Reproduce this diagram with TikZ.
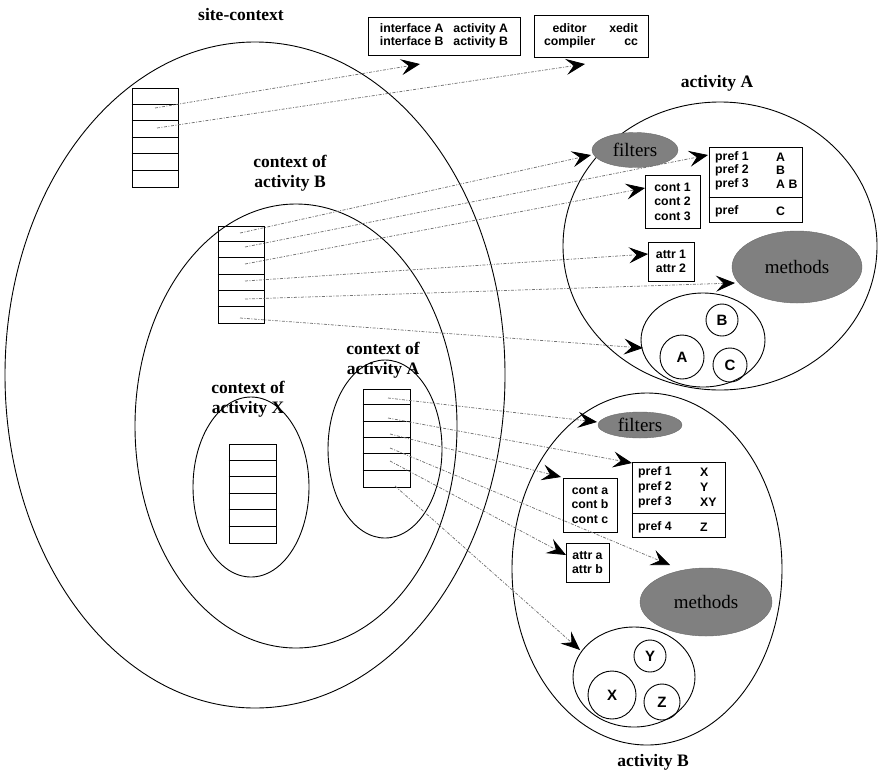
\documentclass[tikz,border=0pt]{standalone}
\usepackage{fontspec}
\setmainfont{Liberation Serif}
\newfontfamily\sansf{Liberation Sans}
\usetikzlibrary{shapes.geometric,arrows.meta}
\tikzset{
  lbl/.style={font=\bfseries\fontsize{17.5}{20}\selectfont, align=center, inner sep=0pt},
  ring/.style={draw, ellipse, line width=0.9pt, inner sep=0pt},
  tbl/.style={draw, rectangle, line width=0.9pt, inner sep=0pt},
  sbox/.style={draw, rectangle, line width=0.9pt, inner sep=0pt, font=\sansf\bfseries\fontsize{12.3}{14.5}\selectfont, align=center},
  stxt/.style={font=\sansf\bfseries\fontsize{12.3}{14.5}\selectfont, inner sep=0pt, anchor=west},
  blob/.style={ellipse, fill=black!50, draw=black!58, inner sep=0pt, font=\fontsize{19}{20}\selectfont},
  circ/.style={draw, circle, line width=0.9pt, inner sep=0pt, font=\sansf\bfseries\fontsize{15}{16}\selectfont},
  conn/.style={draw=black!55, line width=0.75pt, dash pattern=on 3pt off 1.5pt on 1pt off 1.5pt,
     -{Stealth[black, length=19pt, width=16pt, inset=7.5pt]}}
}
\begin{document}
\begin{tikzpicture}[x=1pt, y=-1pt]
\useasboundingbox (0,0) rectangle (882,774);
% containers
\node[ring, minimum width=500, minimum height=666] (site) at (255,375) {};
\node[ring, minimum width=322, minimum height=444] (ctxB) at (296,426) {};
\node[ring, minimum width=116, minimum height=180] (ctxX) at (251,487) {};
\node[ring, minimum width=114, minimum height=178] (ctxA) at (385,449) {};
\node[ring, minimum width=314, minimum height=288] (actA) at (720,246) {};
\node[ring, minimum width=270, minimum height=352] (actB) at (647,569) {};
% labels
\node[lbl] (lsite) at (241,15) {site-context};
\node[lbl] (lctxB) at (290,173) {context of\\activity B};
\node[lbl] (lctxA) at (383,360) {context of\\activity A};
\node[lbl] (lctxX) at (248,399) {context of\\activity X};
\node[lbl] (lactA) at (717,83) {activity A};
\node[lbl] (lactB) at (653,762) {activity B};
% tables
\node[tbl, minimum width=46, minimum height=99] (tS) at (155,137.5) {};
\node[tbl, minimum width=46, minimum height=97] (tB) at (241,274.5) {};
\node[tbl, minimum width=47, minimum height=99] (tX) at (252.5,493.5) {};
\node[tbl, minimum width=47, minimum height=98] (tA) at (386.5,438) {};
\foreach \t/\h/\w in {tS/99/46, tB/97/46, tX/99/47, tA/98/47}{
  \foreach \k in {1,...,5}{
    \draw[line width=0.9pt] (\t.north west) ++(0,\k*\h/6) -- ++(\w,0);
  }
}
% top boxes
\node[sbox, minimum width=152, minimum height=38] (b1) at (444,36)
  {\begin{tabular}{@{}l@{\hspace{10pt}}l@{}}interface A & activity A\\[-2pt] interface B & activity B\end{tabular}};
\node[sbox, minimum width=114, minimum height=42] (b2) at (591,36)
  {\begin{tabular}{@{}c@{\hspace{14pt}}r@{}}editor & xedit\\[-2pt] compiler & cc\end{tabular}};
% activity A contents
\node[blob, minimum width=86, minimum height=35] (fA) at (635,150) {filters};
\node[tbl, minimum width=93, minimum height=75] (pA) at (755.5,184.5) {};
\draw[line width=0.9pt] (pA.west |- 0,197) -- (pA.east |- 0,197);
\node[stxt] (pA1) at (715,157) {pref 1};
\node[stxt] (pA2) at (715,170.5) {pref 2};
\node[stxt] (pA3) at (715,184) {pref 3};
\node[stxt] (pA4) at (715,211) {pref};
\node[stxt] (vA1) at (776,157) {A};
\node[stxt] (vA2) at (776,170.5) {B};
\node[stxt] (vA3) at (776,184) {A B};
\node[stxt] (vA4) at (776,211) {C};
\node[sbox, minimum width=55, minimum height=53] (cA) at (672.5,201.5) {cont 1\\cont 2\\cont 3};
\node[sbox, minimum width=46, minimum height=39] (aA) at (671,261.5) {attr 1\\attr 2};
\node[blob, minimum width=130, minimum height=72] (mA) at (797,267) {methods};
\node[ring, minimum width=124, minimum height=94] (gA) at (703,340) {};
\node[circ, minimum size=32] (cB) at (722,320) {B};
\node[circ, minimum size=44] (cAA) at (682,357) {A};
\node[circ, minimum size=34] (cC) at (730,365) {C};
% activity B contents
\node[blob, minimum width=84, minimum height=26] (fB) at (640,425) {filters};
\node[tbl, minimum width=93, minimum height=75] (pB) at (678.5,499.5) {};
\draw[line width=0.9pt] (pB.west |- 0,513) -- (pB.east |- 0,513);
\node[stxt] (pB1) at (638,472) {pref 1};
\node[stxt] (pB2) at (638,487) {pref 2};
\node[stxt] (pB3) at (638,502) {pref 3};
\node[stxt] (pB4) at (638,527) {pref 4};
\node[stxt] (wB1) at (700,472) {X};
\node[stxt] (wB2) at (700,487) {Y};
\node[stxt] (wB3) at (700,502) {XY};
\node[stxt] (wB4) at (700,527) {Z};
\node[sbox, minimum width=54, minimum height=54] (cBx) at (590,505) {cont a\\cont b\\cont c};
\node[sbox, minimum width=43, minimum height=39] (aB) at (587.5,562.5) {attr a\\attr b};
\node[blob, minimum width=132, minimum height=68] (mB) at (706,602) {methods};
\node[ring, minimum width=122, minimum height=100] (gB) at (634,677) {};
\node[circ, minimum size=32] (cY) at (650,656) {Y};
\node[circ, minimum size=48] (cX) at (612,695) {X};
\node[circ, minimum size=36] (cZ) at (662,702) {Z};
% connector end points
\coordinate (s1) at (155,108);
\coordinate (s2) at (157,128);
\coordinate (t1) at (420,64);
\coordinate (t2) at (585,64);
\coordinate (r1) at (240,233);
\coordinate (r2) at (245,247);
\coordinate (r3) at (245,264);
\coordinate (r4) at (245,281);
\coordinate (r5) at (245,299);
\coordinate (r6) at (240,318);
\coordinate (u1) at (591,155);
\coordinate (u2) at (708,155);
\coordinate (u3) at (645,188);
\coordinate (u4) at (648,254);
\coordinate (u5) at (735,283);
\coordinate (u6) at (643,348);
\coordinate (q1) at (388,398);
\coordinate (q2) at (388,418);
\coordinate (q3) at (390,434);
\coordinate (q4) at (390,448);
\coordinate (q5) at (390,461);
\coordinate (q6) at (395,486);
\coordinate (v1) at (597,422);
\coordinate (v2) at (632,463);
\coordinate (v3) at (561,477);
\coordinate (v4) at (670,565);
\coordinate (v5) at (566,555);
\coordinate (v6) at (580,650);
% connectors
\draw[conn] (s1) -- (t1);
\draw[conn] (s2) -- (t2);
\foreach \i in {1,...,6}{
  \draw[conn] (r\i) -- (u\i);
  \draw[conn] (q\i) -- (v\i);
}
\end{tikzpicture}
\end{document}
